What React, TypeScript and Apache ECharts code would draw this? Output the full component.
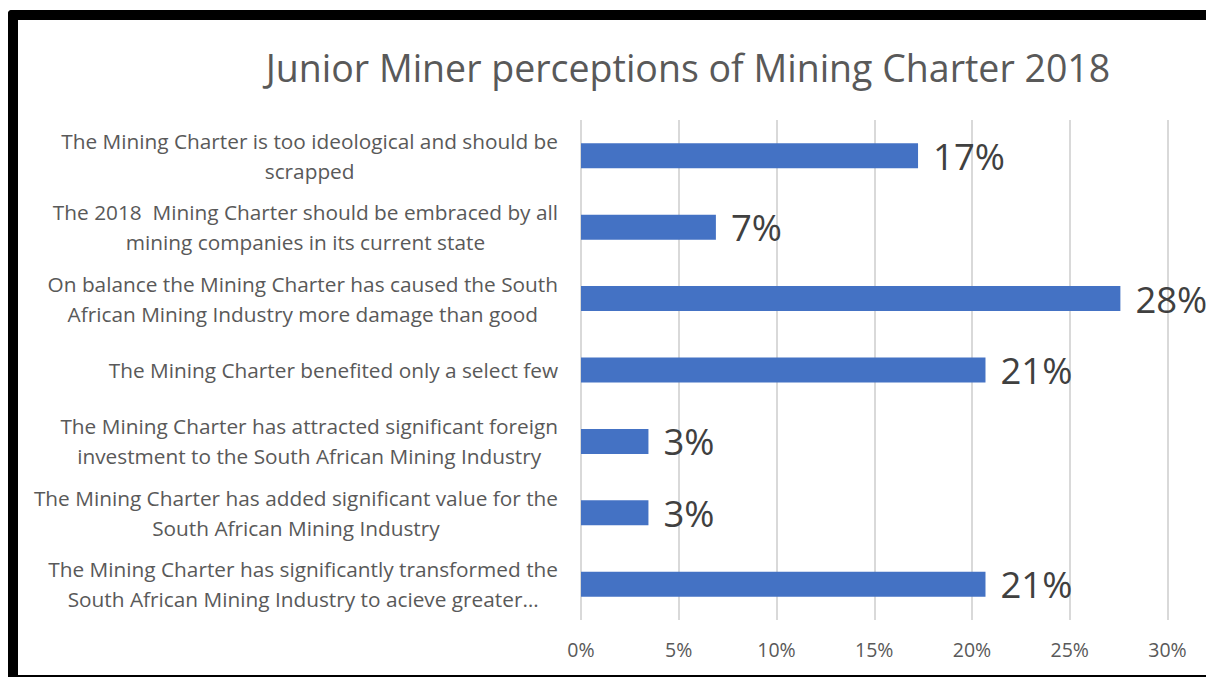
import React, { useEffect, useRef } from "react";
import * as echarts from "echarts";

const titleText = "Junior Miner perceptions of Mining Charter 2018";

const categories = [
  "The Mining Charter is too ideological and should be\nscrapped",
  "The 2018  Mining Charter should be embraced by all\nmining companies in its current state",
  "On balance the Mining Charter has caused the South\nAfrican Mining Industry more damage than good",
  "The Mining Charter benefited only a select few",
  "The Mining Charter has attracted significant foreign\ninvestment to the South African Mining Industry",
  "The Mining Charter has added significant value for the\nSouth African Mining Industry",
  "The Mining Charter has significantly transformed the\nSouth African Mining Industry to acieve greater…",
];

const values = [17.24, 6.9, 27.59, 20.69, 3.45, 3.45, 20.69];

const xTicks = [0, 5, 10, 15, 20, 25, 30];

const FONT = "'Open Sans', sans-serif";
const LABEL_SIZE = 20.8;

export default function App() {
  const ref = useRef<HTMLDivElement>(null);
  useEffect(() => {
    if (!ref.current) return;
    const chart = echarts.init(ref.current, undefined, { renderer: "svg" });
    const cats = [...categories].reverse();
    const vals = [...values].reverse();

    const canvas = document.createElement("canvas");
    const ctx = canvas.getContext("2d")!;
    ctx.font = `${LABEL_SIZE}px 'Open Sans'`;
    const rich: Record<string, any> = {};
    cats.forEach((c, i) => {
      const w = Math.max(...c.split("\n").map((l) => ctx.measureText(l).width)) + 2;
      rich["w" + i] = {
        width: w,
        align: "center",
        fontFamily: FONT,
        fontSize: LABEL_SIZE,
        lineHeight: 30,
        color: "#595959",
      };
    });

    chart.setOption({
      animation: false,
      backgroundColor: "#ffffff",
      title: {
        text: titleText,
        left: 683,
        textAlign: "center",
        top: 43,
        textStyle: { fontFamily: FONT, fontSize: 37.5, fontWeight: "normal", color: "#595959" },
      },
      grid: { left: 581, right: 38.5, top: 120, bottom: 57, containLabel: false },
      xAxis: {
        type: "value",
        min: 0,
        max: 30,
        interval: 5,
        axisLine: { show: false },
        axisTick: { show: false },
        splitLine: { show: true, lineStyle: { color: "#d9d9d9", width: 2 } },
        axisLabel: {
          margin: 19,
          fontFamily: FONT,
          fontSize: 19.5,
          color: "#595959",
          formatter: (v: number) => (xTicks.includes(v) ? `${v}%` : ""),
        },
      },
      yAxis: {
        type: "category",
        data: cats,
        axisLine: { show: false },
        axisTick: { show: false },
        axisLabel: {
          margin: 22,
          fontFamily: FONT,
          fontSize: LABEL_SIZE,
          lineHeight: 30,
          color: "#595959",
          align: "right",
          rich,
          formatter: (v: string, idx: number) =>
            v
              .split("\n")
              .map((l) => `{w${idx}|${l}}`)
              .join("\n"),
        },
      },
      series: [
        {
          type: "bar",
          data: vals,
          barWidth: "35%",
          itemStyle: { color: "#4472c4" },
          label: {
            show: true,
            position: "right",
            distance: 15,
            fontFamily: FONT,
            fontSize: 36.5,
            color: "#404040",
            formatter: (p: any) => `${Math.round(p.value)}%`,
          },
        },
      ],
      graphic: [
        { type: "rect", shape: { x: 8, y: 10, width: 1198, height: 10, r: [4, 0, 0, 0] }, style: { fill: "#000" }, z: 100 },
        { type: "rect", shape: { x: 8, y: 10, width: 10, height: 667, r: [4, 0, 0, 0] }, style: { fill: "#000" }, z: 100 },
        { type: "rect", shape: { x: 8, y: 675, width: 1198, height: 2 }, style: { fill: "#000" }, z: 100 },
      ],
    });
    return () => chart.dispose();
  }, []);
  return (
    <div
      ref={ref}
      style={{ position: "fixed", left: 0, top: 0, width: 1206, height: 677 }}
    />
  );
}
